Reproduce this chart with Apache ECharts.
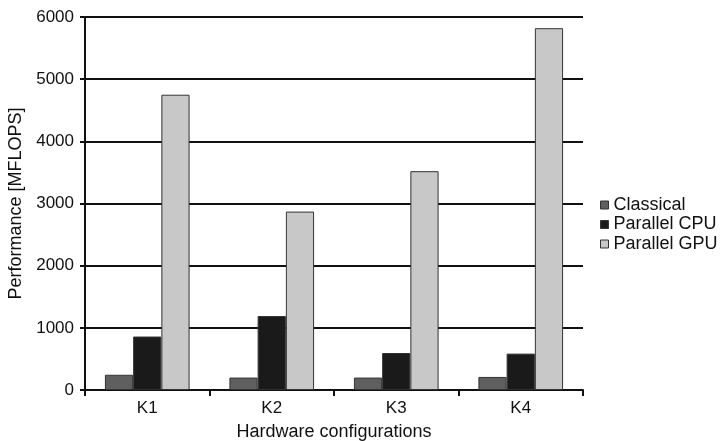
<!DOCTYPE html>
<html><head><meta charset="utf-8">
<script src="https://cdn.jsdelivr.net/npm/echarts@6/dist/echarts.min.js"></script>
<style>html,body{margin:0;padding:0;background:#fff}#c{width:722px;height:441px}</style>
</head><body><div id="c"></div>
<script>
const categories = ['K1','K2','K3','K4'];
const classical = [245, 200, 200, 210];
const parallelCPU = [860, 1190, 595, 585];
const parallelGPU = [4750, 2870, 3520, 5820];
const seriesNames = ['Classical','Parallel CPU','Parallel GPU'];
const colors = ['#5f5f5f','#1a1a1a','#c8c8c8'];
const F = 'Liberation Sans, Arial, sans-serif';
const chart = echarts.init(document.getElementById('c'), null, {renderer:'canvas'});
const mk = (name, data, color) => ({
  name, type:'bar', data, barGap:'0%', barCategoryGap:'32%',
  itemStyle:{color, borderColor:'#333', borderWidth:1},
  emphasis:{disabled:true}, animation:false
});
chart.setOption({
  animation:false,
  grid:{left:85, right:139, top:17, bottom:51, containLabel:false, outerBoundsMode:'none'},
  legend:{
    orient:'vertical', left:600, top:196, padding:0, itemWidth:8, itemHeight:8, itemGap:1.5,
    icon:'rect',
    textStyle:{fontFamily:F, fontSize:18, lineHeight:18, color:'#111'},
    data:seriesNames.map((n,i)=>({name:n, itemStyle:{color:colors[i], borderColor:'#333', borderWidth:1}}))
  },
  xAxis:{
    type:'category', data:categories,
    name:'Hardware configurations', nameLocation:'middle', nameGap:33,
    nameTextStyle:{fontFamily:F, fontSize:18, color:'#111'},
    axisLine:{lineStyle:{color:'#111', width:2}},
    axisTick:{show:true, length:6, lineStyle:{color:'#111', width:2}},
    axisLabel:{fontFamily:F, fontSize:17, color:'#111', margin:10}
  },
  yAxis:{
    type:'value', min:0, max:6000, interval:1000,
    name:'Performance [MFLOPS]', nameLocation:'middle', nameGap:58,
    nameTextStyle:{fontFamily:F, fontSize:18, color:'#111'},
    axisLine:{show:true, lineStyle:{color:'#111', width:2}},
    axisTick:{show:true, length:5, lineStyle:{color:'#111', width:2}},
    axisLabel:{fontFamily:F, fontSize:17, color:'#111', margin:11, formatter:v=>String(v)},
    splitLine:{lineStyle:{color:'#111', width:2}}
  },
  series:[mk(seriesNames[0], classical, colors[0]), mk(seriesNames[1], parallelCPU, colors[1]), mk(seriesNames[2], parallelGPU, colors[2])]
});
</script></body></html>
